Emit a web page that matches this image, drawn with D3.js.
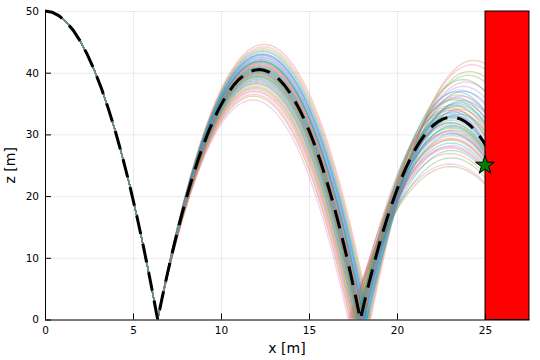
<!DOCTYPE html>
<html>
<head>
<meta charset="utf-8">
<script src="https://cdn.jsdelivr.net/npm/d3@7"></script>
<style>
  body { margin: 0; background: #fff; }
  svg { display: block; font-family: "DejaVu Sans", sans-serif; }
</style>
</head>
<body>
<svg id="chart" width="540" height="360"></svg>
<script>
const xTicks = [0, 5, 10, 15, 20, 25];
const zTicks = [0, 10, 20, 30, 40, 50];

// first fall from the release height, shared by every run
const dropX = [0, 0.4, 0.8, 1.2, 1.6, 2.0, 2.4, 2.8, 3.2, 3.6, 4.0, 4.4, 4.8, 5.2, 5.6, 6.0, 6.4];
const dropZ = [50, 49.8, 49.22, 48.24, 46.88, 45.12, 42.97, 40.43, 37.5, 34.18, 30.47, 26.37, 21.88, 16.99, 11.72, 6.05, 0];
const bounce1X = 6.4;

// normalised shape of one bounce arc (fraction of width, fraction of peak)
const arcU = [0, 0.025, 0.05, 0.075, 0.1, 0.125, 0.15, 0.175, 0.2, 0.225, 0.25, 0.275, 0.3, 0.325, 0.35, 0.375, 0.4, 0.425, 0.45, 0.475, 0.5,
  0.525, 0.55, 0.575, 0.6, 0.625, 0.65, 0.675, 0.7, 0.725, 0.75, 0.775, 0.8, 0.825, 0.85, 0.875, 0.9, 0.925, 0.95, 0.975, 1];
const arcV = [0, 0.0975, 0.19, 0.2775, 0.36, 0.4375, 0.51, 0.5775, 0.64, 0.6975, 0.75, 0.7975, 0.84, 0.8775, 0.91, 0.9375, 0.96, 0.9775, 0.99, 0.9975, 1,
  0.9975, 0.99, 0.9775, 0.96, 0.9375, 0.91, 0.8775, 0.84, 0.7975, 0.75, 0.6975, 0.64, 0.5775, 0.51, 0.4375, 0.36, 0.2775, 0.19, 0.0975, 0];

// ensemble runs: second landing x, second peak z, third landing x, third peak z
const land2X = [17.92, 18.02, 17.82, 18.18, 17.65, 17.98, 18.29, 17.48, 18.09, 17.74,
  17.86, 18.25, 17.58, 18.06, 17.89, 18.36, 17.78, 17.35, 17.99, 18.13,
  17.95, 17.69, 18.45, 17.83, 18.12, 17.54, 17.91, 18.20, 17.71, 17.22,
  18.03, 17.85, 18.33, 17.62, 18.11, 17.79, 17.93, 18.16, 17.44, 18.01,
  17.75, 18.40, 17.88, 17.66, 18.22, 17.41, 18.08, 17.81, 17.96, 18.50,
  17.61, 18.05, 17.76, 18.26, 17.85, 17.51, 18.12, 17.31, 18.28, 17.92];
const peak2Z = [40.5, 41.2, 39.8, 42.3, 38.6, 40.9, 43.1, 37.4, 41.7, 39.2,
  40.1, 42.8, 38.1, 41.5, 40.3, 43.6, 39.5, 36.5, 41.0, 42.0,
  40.7, 38.9, 44.2, 39.9, 41.9, 37.8, 40.4, 42.5, 39.0, 35.6,
  41.3, 40.0, 43.4, 38.4, 41.8, 39.6, 40.6, 42.2, 37.1, 41.1,
  39.3, 43.9, 40.2, 38.7, 42.6, 36.9, 41.6, 39.7, 40.8, 44.6,
  38.3, 41.4, 39.4, 42.9, 40.0, 37.6, 41.9, 36.2, 43.0, 40.5];
const land3X = [28.29, 28.66, 28.34, 29.07, 28.45, 28.48, 29.52, 28.58, 28.80, 28.38,
  28.30, 28.82, 28.47, 29.10, 28.33, 29.75, 28.24, 28.67, 28.23, 28.53,
  28.78, 28.46, 30.08, 28.51, 28.19, 28.52, 28.91, 29.33, 28.37, 28.80,
  28.25, 28.27, 29.12, 28.42, 29.40, 28.42, 28.49, 28.15, 28.53, 28.93,
  28.46, 29.87, 28.30, 28.20, 28.96, 28.61, 28.61, 28.61, 28.29, 30.22,
  28.57, 28.43, 28.37, 29.27, 28.37, 28.46, 28.79, 28.77, 28.73, 28.78];
const peak3Z = [32.8, 34.5, 31.0, 36.2, 29.4, 33.6, 38.5, 27.8, 35.0, 30.6,
  31.9, 34.1, 30.2, 37.2, 29.8, 39.6, 33.4, 26.9, 32.3, 33.0,
  35.8, 28.6, 41.3, 34.8, 31.4, 29.1, 36.9, 37.8, 32.0, 25.2,
  30.7, 33.1, 35.5, 31.5, 38.9, 28.2, 34.0, 32.6, 30.4, 36.4,
  27.4, 40.2, 31.2, 33.9, 35.2, 28.0, 33.8, 35.6, 30.1, 42.0,
  26.2, 32.9, 34.3, 37.0, 29.2, 31.8, 34.7, 24.8, 33.3, 36.0];

// nominal run (black dashed)
const meanLand2X = 17.92, meanPeak2Z = 40.5, meanLand3X = 28.29, meanPeak3Z = 32.8;

// wall and observed point
const wallX = [25, 27.5];
const wallZ = [0, 50];
const obsX = [25];
const obsZ = [25];

const palette = ["#009AFA", "#E36F47", "#3EA44E", "#C371D2", "#AC8E18", "#00A9AD", "#ED5E93", "#C68225",
  "#00A98D", "#8E971D", "#00A8CB", "#9B7FE9", "#618DF6", "#F060DC", "#DD777D", "#6B9E3B"];

const width = 540;
const height = 360;
const margin = { top: 11, right: 11, bottom: 40.5, left: 45 };
const innerWidth = width - margin.left - margin.right;
const innerHeight = height - margin.top - margin.bottom;

const svg = d3.select("#chart");
const g = svg.append("g").attr("transform", `translate(${margin.left},${margin.top})`);

const x = d3.scaleLinear().domain([0, 27.5]).range([0, innerWidth]);
const z = d3.scaleLinear().domain([0, 50]).range([innerHeight, 0]);

// grid
const xGrid = g.append("g").attr("transform", `translate(0,${innerHeight})`)
  .call(d3.axisBottom(x).tickValues(xTicks).tickSize(-innerHeight).tickFormat(""));
const zGrid = g.append("g")
  .call(d3.axisLeft(z).tickValues(zTicks).tickSize(-innerWidth).tickFormat(""));
[xGrid, zGrid].forEach((s) => {
  s.select(".domain").remove();
  s.selectAll("text").remove();
  s.selectAll("line").attr("stroke", "#000").attr("stroke-opacity", 0.1).attr("stroke-width", 0.8);
});

svg.append("defs").append("clipPath").attr("id", "clip")
  .append("rect").attr("x", 0).attr("y", -5).attr("width", x(25)).attr("height", innerHeight + 5);

function trajectory(l2, p2, l3, p3) {
  const pts = dropX.map((d, i) => ({ x: d, z: dropZ[i] }));
  arcU.forEach((u, i) => {
    if (i > 0) pts.push({ x: bounce1X + u * (l2 - bounce1X), z: arcV[i] * p2 });
  });
  arcU.forEach((u, i) => {
    if (i > 0) pts.push({ x: l2 + u * (l3 - l2), z: arcV[i] * p3 });
  });
  return pts;
}

const line = d3.line().x((d) => x(d.x)).y((d) => z(d.z));

const runs = land2X.map((d, i) => trajectory(d, peak2Z[i], land3X[i], peak3Z[i]));

const linesG = g.append("g").attr("clip-path", "url(#clip)");
linesG.selectAll("path.run")
  .data(runs)
  .join("path")
  .attr("class", "run")
  .attr("d", line)
  .attr("fill", "none")
  .attr("stroke", (d, i) => palette[i % palette.length])
  .attr("stroke-opacity", 0.32)
  .attr("stroke-width", 1.3);

linesG.append("path")
  .datum(trajectory(meanLand2X, meanPeak2Z, meanLand3X, meanPeak3Z))
  .attr("d", line)
  .attr("fill", "none")
  .attr("stroke", "#000")
  .attr("stroke-width", 3)
  .attr("stroke-dasharray", "19,10");

// wall
g.append("rect")
  .attr("x", x(wallX[0]))
  .attr("y", z(wallZ[1]))
  .attr("width", x(wallX[1]) - x(wallX[0]))
  .attr("height", z(wallZ[0]) - z(wallZ[1]))
  .attr("fill", "#FF0000")
  .attr("stroke", "#000")
  .attr("stroke-width", 1);

// axes
const xAxisG = g.append("g").attr("transform", `translate(0,${innerHeight})`)
  .call(d3.axisBottom(x).tickValues(xTicks).tickSizeInner(-6).tickSizeOuter(0).tickPadding(7));
const zAxisG = g.append("g")
  .call(d3.axisLeft(z).tickValues(zTicks).tickSizeInner(-6).tickSizeOuter(0).tickPadding(6));
[xAxisG, zAxisG].forEach((s) => {
  s.select(".domain").attr("stroke", "#000").attr("stroke-width", 1);
  s.selectAll(".tick line").attr("stroke", "#000");
  s.selectAll("text").attr("font-size", 10.5).attr("fill", "#000").attr("font-family", "DejaVu Sans, sans-serif");
});

// observation marker
g.selectAll("path.obs")
  .data(obsX.map((d, i) => ({ x: d, z: obsZ[i] })))
  .join("path")
  .attr("class", "obs")
  .attr("transform", (d) => `translate(${x(d.x)},${z(d.z)})`)
  .attr("d", d3.symbol().type(d3.symbolStar).size(110))
  .attr("fill", "#008000")
  .attr("stroke", "#000")
  .attr("stroke-width", 1);

// labels
g.append("text")
  .attr("x", innerWidth / 2)
  .attr("y", innerHeight + 33)
  .attr("text-anchor", "middle")
  .attr("font-size", 14)
  .text("x [m]");

g.append("text")
  .attr("transform", "rotate(-90)")
  .attr("x", -innerHeight / 2)
  .attr("y", -30)
  .attr("text-anchor", "middle")
  .attr("font-size", 14)
  .text("z [m]");
</script>
</body>
</html>
